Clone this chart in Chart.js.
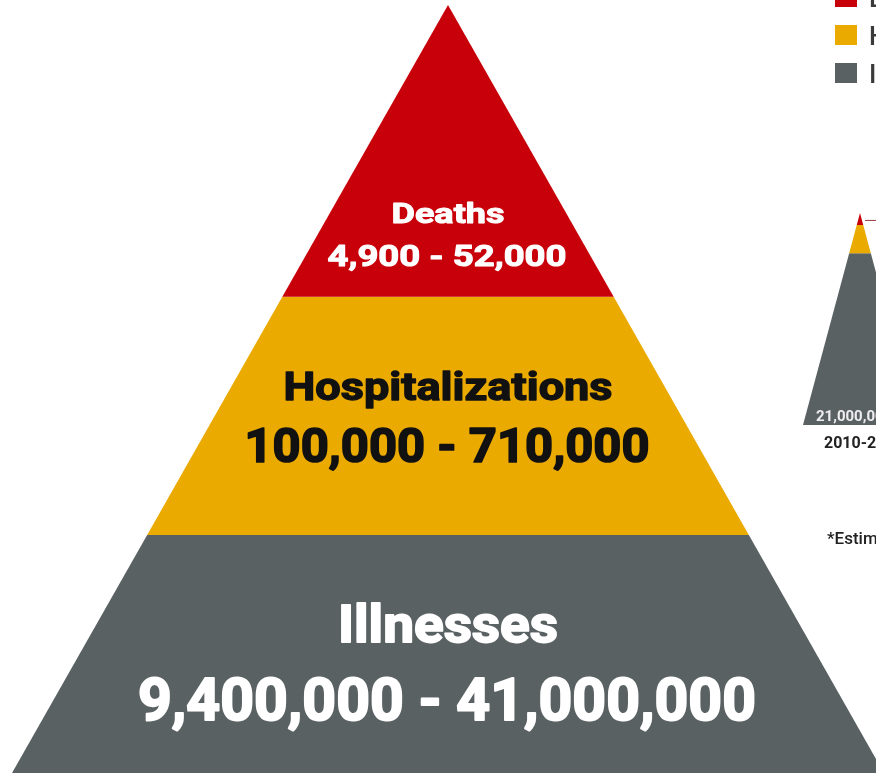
<!DOCTYPE html>
<html>
<head>
<meta charset="utf-8">
<script src="https://cdn.jsdelivr.net/npm/chart.js@4/dist/chart.umd.min.js"></script>
<style>
  html, body { margin: 0; padding: 0; background: #ffffff; }
  #wrap { width: 876px; height: 775px; position: relative; overflow: hidden; }
  canvas { display: block; }
</style>
</head>
<body>
<div id="wrap"><canvas id="c" width="876" height="775"></canvas></div>
<script>
// ---------------- DATA ----------------
const tiers = ['Deaths', 'Hospitalizations', 'Illnesses'];
const lowEstimates = [4900, 100000, 9400000];
const highEstimates = [52000, 710000, 41000000];
const tierColors = ['#C8000A', '#EBAA00', '#5A6163'];
const tierTextColors = ['#ffffff', '#111111', '#ffffff'];

// inset pyramid (previous season, mostly cropped at the right edge)
const insetSeason = '2010-2011';
const insetIllnesses = [21000000];
const footnote = '*Estimated';

// ---------------- LAYOUT (not data) ----------------
const mainPyr  = { cx: 448, top: 5,   base: 773, halfBase: 436, cuts: [0, 0.38, 0.69, 1] };
const insetPyr = { cx: 860, top: 213, base: 425, halfBase: 57,  cuts: [0, 0.057, 0.19, 1] };
const nameStyle  = [{ base: 223, size: 28, w: 113 }, { base: 400, size: 39, w: 329 }, { base: 642, size: 52, w: 220 }];
const rangeStyle = [{ base: 266, size: 29, w: 239 }, { base: 462, size: 49, w: 405 }, { base: 720, size: 59, w: 618 }];

const fmt = v => v.toLocaleString('en-US');

function tierPolygon(p, i) {
  const h = p.base - p.top;
  const y0 = p.top + p.cuts[i] * h, y1 = p.top + p.cuts[i + 1] * h;
  const w0 = p.halfBase * p.cuts[i], w1 = p.halfBase * p.cuts[i + 1];
  return [
    { x: p.cx - w0, y: y0 }, { x: p.cx + w0, y: y0 },
    { x: p.cx + w1, y: y1 }, { x: p.cx - w1, y: y1 },
    { x: p.cx - w0, y: y0 }
  ];
}

const datasets = [];
[mainPyr, insetPyr].forEach((p, k) => {
  tiers.forEach((t, i) => {
    datasets.push({
      label: (k === 0 ? '' : insetSeason + ' ') + t,
      data: tierPolygon(p, i),
      showLine: true,
      fill: 'shape',
      backgroundColor: tierColors[i],
      borderColor: tierColors[i],
      borderWidth: 0,
      pointRadius: 0,
      tension: 0
    });
  });
});
// leader line from the inset tip
(function () {
  const h = insetPyr.base - insetPyr.top;
  const y = insetPyr.top + 0.035 * h;
  datasets.push({
    label: 'leader',
    data: [{ x: insetPyr.cx + 5, y: y }, { x: insetPyr.cx + 40, y: y }],
    showLine: true, fill: false, borderColor: '#9a3a3a', borderWidth: 1, pointRadius: 0
  });
})();

function drawFitted(ctx, text, x, y, size, width, color) {
  ctx.save();
  ctx.font = '700 ' + size + 'px Roboto, "Liberation Sans", sans-serif';
  const m = ctx.measureText(text).width;
  const sx = width / m;
  ctx.translate(x, y);
  ctx.scale(sx, 1);
  ctx.fillStyle = color;
  ctx.strokeStyle = color;
  ctx.lineWidth = size * 0.035;
  ctx.lineJoin = 'round';
  ctx.textAlign = 'center';
  ctx.textBaseline = 'alphabetic';
  ctx.fillText(text, 0, 0);
  ctx.strokeText(text, 0, 0);
  ctx.restore();
}

const labelPlugin = {
  id: 'pyramidLabels',
  afterDatasetsDraw(chart) {
    const ctx = chart.ctx;
    const xs = chart.scales.x, ys = chart.scales.y;
    const cx = xs.getPixelForValue(mainPyr.cx);
    tiers.forEach((t, i) => {
      drawFitted(ctx, t, cx, ys.getPixelForValue(nameStyle[i].base), nameStyle[i].size, nameStyle[i].w, tierTextColors[i]);
      const r = fmt(lowEstimates[i]) + ' - ' + fmt(highEstimates[i]);
      drawFitted(ctx, r, cx - 1, ys.getPixelForValue(rangeStyle[i].base), rangeStyle[i].size, rangeStyle[i].w, tierTextColors[i]);
    });

    // inset labels
    ctx.save();
    ctx.textAlign = 'left';
    ctx.font = '700 15px Roboto, "Liberation Sans", sans-serif';
    ctx.fillStyle = '#eeeeee';
    ctx.fillText(fmt(insetIllnesses[0]), xs.getPixelForValue(816), ys.getPixelForValue(421));
    ctx.font = '700 16px Roboto, "Liberation Sans", sans-serif';
    ctx.fillStyle = '#222222';
    ctx.fillText(insetSeason, xs.getPixelForValue(824), ys.getPixelForValue(448));
    ctx.font = '500 17px Roboto, "Liberation Sans", sans-serif';
    ctx.fillText(footnote, xs.getPixelForValue(827), ys.getPixelForValue(544));

    // legend (cropped at the right edge)
    ctx.font = '500 26px Roboto, "Liberation Sans", sans-serif';
    tiers.forEach((t, i) => {
      const top = -13 + i * 38;
      ctx.fillStyle = tierColors[i];
      ctx.fillRect(xs.getPixelForValue(835), ys.getPixelForValue(top), 22, 20);
      ctx.fillStyle = '#3a3a3a';
      ctx.fillText(t, xs.getPixelForValue(869), ys.getPixelForValue(top + 20));
    });
    ctx.restore();
  }
};

new Chart(document.getElementById('c'), {
  type: 'scatter',
  data: { datasets },
  options: {
    responsive: false,
    animation: false,
    events: [],
    layout: { padding: 0 },
    scales: {
      x: { type: 'linear', min: 0, max: 876, display: false },
      y: { type: 'linear', min: 0, max: 775, reverse: true, display: false }
    },
    plugins: { legend: { display: false }, tooltip: { enabled: false } }
  },
  plugins: [labelPlugin]
});
</script>
</body>
</html>
